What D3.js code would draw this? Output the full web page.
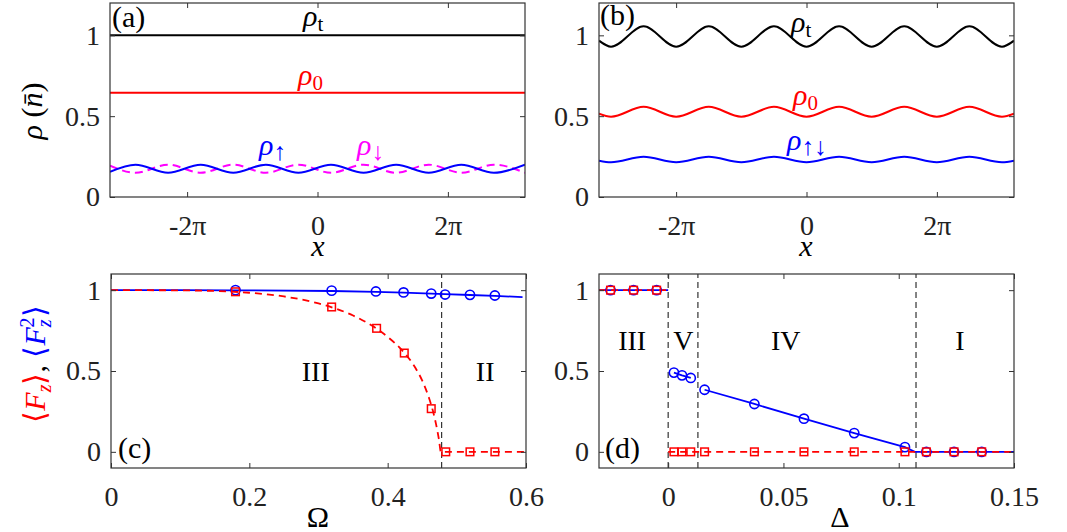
<!DOCTYPE html>
<html><head><meta charset="utf-8">
<script src="https://cdn.jsdelivr.net/npm/d3@7"></script>
<style>body{margin:0;background:#fff}</style>
</head><body><svg id="chart" width="1067" height="532"></svg>
<script>
// ---------- data ----------
const topXTicks = [-2 * Math.PI, 0, 2 * Math.PI];
const topXTickLabels = ["-2\u03c0", "0", "2\u03c0"];
const rhoYTicks = [0, 0.5, 1];
const rhoYTickLabels = ["0", "0.5", "1"];

// panel (a)
const aFlatX = [-10, 10];
const aRhoT = [1, 1];
const aRho0 = [0.645, 0.645];
const aWaveX = [-10, -8.77, -7.20, -5.63, -4.06, -2.49, -0.92, 0.65, 2.22, 3.79, 5.36, 6.93, 8.50, 10];
const aRhoUp = [0.156, 0.20, 0.15, 0.20, 0.15, 0.20, 0.15, 0.20, 0.15, 0.20, 0.15, 0.20, 0.15, 0.20];
const aRhoDown = [0.194, 0.15, 0.20, 0.15, 0.20, 0.15, 0.20, 0.15, 0.20, 0.15, 0.20, 0.15, 0.20, 0.15];

// panel (b)
const bWaveX = [-10, -9.42, -7.85, -6.28, -4.71, -3.14, -1.57, 0, 1.57, 3.14, 4.71, 6.28, 7.85, 9.42, 10];
const bRhoT = [0.967, 0.93, 1.056, 0.93, 1.056, 0.93, 1.056, 0.93, 1.056, 0.93, 1.056, 0.93, 1.056, 0.93, 0.967];
const bRho0 = [0.515, 0.497, 0.558, 0.497, 0.558, 0.497, 0.558, 0.497, 0.558, 0.497, 0.558, 0.497, 0.558, 0.497, 0.515];
const bRhoUD = [0.225, 0.215, 0.249, 0.215, 0.249, 0.215, 0.249, 0.215, 0.249, 0.215, 0.249, 0.215, 0.249, 0.215, 0.225];

// panel (c)
const cXTicks = [0, 0.2, 0.4, 0.6];
const cXTickLabels = ["0", "0.2", "0.4", "0.6"];
const cLineBlueX = [0, 0.1, 0.18, 0.32, 0.383, 0.423, 0.463, 0.483, 0.519, 0.555, 0.595];
const cLineBlueY = [1, 1, 0.999, 0.995, 0.99, 0.985, 0.979, 0.975, 0.97, 0.965, 0.957];
const cLineRedX = [0, 0.1, 0.15, 0.2, 0.25, 0.3, 0.35, 0.38, 0.4, 0.42, 0.44, 0.45, 0.46, 0.465, 0.47, 0.474, 0.477, 0.6];
const cLineRedY = [1, 0.999, 0.995, 0.984, 0.961, 0.918, 0.843, 0.773, 0.711, 0.632, 0.52, 0.44, 0.33, 0.26, 0.17, 0.08, 0, 0];
const cCircX = [0.18, 0.319, 0.383, 0.423, 0.463, 0.483, 0.519, 0.555];
const cCircY = [1.0, 0.997, 0.992, 0.986, 0.979, 0.973, 0.971, 0.967];
const cSqX = [0.18, 0.319, 0.384, 0.424, 0.463, 0.484, 0.519, 0.555];
const cSqY = [0.99, 0.896, 0.764, 0.611, 0.267, 0, 0, 0];
const cBoundary = [0.478];
const cRegions = [{name: "III", x: 0.296, y: 0.5}, {name: "II", x: 0.541, y: 0.5}];

// panel (d)
const dXTicks = [0, 0.05, 0.1, 0.15];
const dXTickLabels = ["0", "0.05", "0.1", "0.15"];
const dMarkX = [-0.025, -0.015, -0.005, 0.0025, 0.006, 0.0098, 0.0158, 0.0374, 0.0589, 0.0807, 0.1027, 0.112, 0.124, 0.136];
const dCircY = [1, 1, 1, 0.49, 0.473, 0.457, 0.384, 0.296, 0.205, 0.116, 0.029, 0, 0, 0];
const dSqY = [1, 1, 1, 0, 0, 0, 0, 0, 0, 0, 0, 0, 0, 0];
const dBlueSegIII = [[-0.03, 1], [0, 1]];
const dBlueSegV = [[0.0025, 0.49], [0.006, 0.473], [0.0098, 0.457]];
const dBlueSegIV = [[0.0158, 0.384], [0.0374, 0.296], [0.0589, 0.205], [0.0807, 0.116], [0.1027, 0.029], [0.107, 0], [0.15, 0]];
const dRedSegIII = [[-0.03, 1], [0, 1]];
const dRedSegRest = [[0, 0], [0.15, 0]];
const dBoundaries = [0, 0.0129, 0.1075];
const dRegions = [{name: "III", x: -0.0156, y: 0.69}, {name: "V", x: 0.0066, y: 0.69}, {name: "IV", x: 0.051, y: 0.69}, {name: "I", x: 0.1265, y: 0.69}];

// ---------- drawing ----------
const FONT = '"Liberation Serif","Times New Roman",serif';
const svg = d3.select("#chart");
svg.append("rect").attr("width", 1067).attr("height", 532).attr("fill", "#fff");

let clipId = 0;
function panel(box, xDom, yDom, xTicks, xLabels, yTicks, yLabels) {
  const x = d3.scaleLinear().domain(xDom).range([box.x0, box.x1]);
  const y = d3.scaleLinear().domain(yDom).range([box.y1, box.y0]);
  const g = svg.append("g");
  const id = "clip" + (clipId++);
  svg.append("clipPath").attr("id", id).append("rect")
    .attr("x", box.x0).attr("y", box.y0).attr("width", box.x1 - box.x0).attr("height", box.y1 - box.y0);
  const data = g.append("g").attr("clip-path", `url(#${id})`);
  const marks = g.append("g");
  const ax = g.append("g").style("color", "#262626").attr("font-family", FONT);
  const style = sel => {
    sel.attr("font-family", FONT);
    sel.select(".domain").remove();
    sel.selectAll(".tick line").attr("stroke", "#333").attr("stroke-width", 1);
    sel.selectAll(".tick text").style("font-family", FONT).style("font-size", "28px").attr("fill", "#222");
  };
  ax.append("g").attr("transform", `translate(0,${box.y1})`)
    .call(d3.axisBottom(x).tickValues(xTicks).tickFormat((d, i) => xLabels[i]).tickSize(-5).tickPadding(18)).call(style);
  ax.append("g").attr("transform", `translate(0,${box.y0})`)
    .call(d3.axisTop(x).tickValues(xTicks).tickFormat("").tickSize(-5)).call(style);
  ax.append("g").attr("transform", `translate(${box.x0},0)`)
    .call(d3.axisLeft(y).tickValues(yTicks).tickFormat((d, i) => yLabels[i]).tickSize(-5).tickPadding(10)).call(style);
  ax.append("g").attr("transform", `translate(${box.x1},0)`)
    .call(d3.axisRight(y).tickValues(yTicks).tickFormat("").tickSize(-5)).call(style);
  g.append("rect").attr("x", box.x0).attr("y", box.y0).attr("width", box.x1 - box.x0).attr("height", box.y1 - box.y0)
    .attr("fill", "none").attr("stroke", "#333").attr("stroke-width", 1.2);
  return {x, y, data, marks, g};
}

function drawLine(p, pts, color, width, dash, curve) {
  const line = d3.line().x(d => p.x(d[0])).y(d => p.y(d[1])).curve(curve || d3.curveLinear);
  p.data.append("path").datum(pts).attr("d", line).attr("fill", "none")
    .attr("stroke", color).attr("stroke-width", width).attr("stroke-dasharray", dash || null);
}

function richText(parent, x, y, parts, opts) {
  opts = opts || {};
  const t = parent.append("text").attr("x", x).attr("y", y)
    .style("font-family", FONT).style("font-size", (opts.size || 30) + "px")
    .attr("text-anchor", opts.anchor || "start");
  if (opts.transform) t.attr("transform", opts.transform);
  parts.forEach(p => {
    const s = t.append("tspan").text(p.t);
    if (p.i) s.attr("font-style", "italic");
    if (p.size) s.style("font-size", p.size + "px");
    if (p.dy) s.attr("dy", p.dy);
    if (p.dx) s.attr("dx", p.dx);
    s.attr("fill", p.c || opts.fill || "#000");
  });
  return t;
}

const boxA = {x0: 110, x1: 525, y0: 3, y1: 197};
const boxB = {x0: 599, x1: 1014, y0: 3, y1: 197};
const boxC = {x0: 111, x1: 526, y0: 274, y1: 468};
const boxD = {x0: 599, x1: 1014, y0: 274, y1: 468};

// ---- (a)
const pa = panel(boxA, [-10, 10], [0, 1.2], topXTicks, topXTickLabels, rhoYTicks, rhoYTickLabels);
drawLine(pa, d3.zip(aFlatX, aRhoT), "#000", 2);
drawLine(pa, d3.zip(aFlatX, aRho0), "#ff0000", 2);
drawLine(pa, d3.zip(aWaveX, aRhoDown), "#ff00ff", 2, "8,5", d3.curveMonotoneX);
drawLine(pa, d3.zip(aWaveX, aRhoUp), "#0000ff", 2, null, d3.curveMonotoneX);
richText(svg, 303, 26, [{t: "\u03c1", i: true}, {t: "t", size: 21, dy: 5}]);
richText(svg, 298, 85, [{t: "\u03c1", i: true}, {t: "0", size: 21, dy: 5}], {fill: "#ff0000"});
richText(svg, 259, 155, [{t: "\u03c1", i: true}, {t: "\u2191", size: 25, dy: 5}], {fill: "#0000ff"});
richText(svg, 357, 155, [{t: "\u03c1", i: true}, {t: "\u2193", size: 25, dy: 5}], {fill: "#ff00ff"});
richText(svg, 112, 27, [{t: "(a)"}]);
richText(svg, 318, 256, [{t: "x", i: true}], {anchor: "middle"});
richText(svg, 0, 0, [{t: "\u03c1", i: true}, {t: " ("}, {t: "n\u0304", i: true}, {t: ")"}],
  {anchor: "middle", transform: "translate(42,111) rotate(-90)"});

// ---- (b)
const pb = panel(boxB, [-10, 10], [0, 1.2], topXTicks, topXTickLabels, rhoYTicks, rhoYTickLabels);
drawLine(pb, d3.zip(bWaveX, bRhoT), "#000", 2, null, d3.curveMonotoneX);
drawLine(pb, d3.zip(bWaveX, bRho0), "#ff0000", 2, null, d3.curveMonotoneX);
drawLine(pb, d3.zip(bWaveX, bRhoUD), "#0000ff", 2, null, d3.curveMonotoneX);
richText(svg, 791, 32, [{t: "\u03c1", i: true}, {t: "t", size: 21, dy: 5}]);
richText(svg, 793, 105, [{t: "\u03c1", i: true}, {t: "0", size: 21, dy: 5}], {fill: "#ff0000"});
richText(svg, 787, 150, [{t: "\u03c1", i: true}, {t: "\u2191\u2193", size: 25, dy: 5}], {fill: "#0000ff"});
richText(svg, 600, 25, [{t: "(b)"}]);
richText(svg, 806, 256, [{t: "x", i: true}], {anchor: "middle"});

// ---- (c)
const pc = panel(boxC, [0, 0.6], [-0.1, 1.1], cXTicks, cXTickLabels, rhoYTicks, rhoYTickLabels);
cBoundary.forEach(v => drawLine(pc, [[v, -0.1], [v, 1.1]], "#333", 1.2, "6,4"));
drawLine(pc, d3.zip(cLineBlueX, cLineBlueY), "#0000ff", 1.8);
drawLine(pc, d3.zip(cLineRedX, cLineRedY), "#ff0000", 1.8, "7,5", d3.curveMonotoneX);
pc.marks.selectAll("circle").data(d3.zip(cCircX, cCircY)).join("circle")
  .attr("cx", d => pc.x(d[0])).attr("cy", d => pc.y(d[1])).attr("r", 4.6)
  .attr("fill", "none").attr("stroke", "#0000ff").attr("stroke-width", 1.6);
pc.marks.selectAll("rect").data(d3.zip(cSqX, cSqY)).join("rect")
  .attr("x", d => pc.x(d[0]) - 3.8).attr("y", d => pc.y(d[1]) - 3.8).attr("width", 7.6).attr("height", 7.6)
  .attr("fill", "none").attr("stroke", "#ff0000").attr("stroke-width", 1.5);
cRegions.forEach(r => richText(svg, pc.x(r.x), pc.y(r.y) + 10, [{t: r.name}], {anchor: "middle", size: 28}));
richText(svg, 118, 458, [{t: "(c)"}]);
richText(svg, 318, 527, [{t: "\u03a9"}], {anchor: "middle"});
richText(svg, 0, 0, [
  {t: "\u27e8", c: "#ff0000"}, {t: "F", i: true, c: "#ff0000"}, {t: "z", i: true, size: 20, dy: 6, c: "#ff0000"},
  {t: "\u27e9", c: "#ff0000", dy: -6}, {t: ", ", c: "#000"},
  {t: "\u27e8", c: "#0000ff"}, {t: "F", i: true, c: "#0000ff"}, {t: "z", i: true, size: 20, dy: 6, c: "#0000ff"},
  {t: "2", size: 20, dx: -8, dy: -17, c: "#0000ff"}, {t: "\u27e9", c: "#0000ff", dy: 11}
], {anchor: "middle", transform: "translate(45,364) rotate(-90)"});

// ---- (d)
const pd = panel(boxD, [-0.03, 0.15], [-0.1, 1.1], dXTicks, dXTickLabels, rhoYTicks, rhoYTickLabels);
dBoundaries.forEach(v => drawLine(pd, [[v, -0.1], [v, 1.1]], "#333", 1.2, "6,4"));
[dBlueSegIII, dBlueSegV, dBlueSegIV].forEach(s => drawLine(pd, s, "#0000ff", 1.8));
drawLine(pd, dRedSegIII, "#ff0000", 1.8, "7,5");
drawLine(pd, dRedSegRest, "#ff0000", 1.8, "7,5");
pd.marks.selectAll("circle").data(d3.zip(dMarkX, dCircY)).join("circle")
  .attr("cx", d => pd.x(d[0])).attr("cy", d => pd.y(d[1])).attr("r", 4.6)
  .attr("fill", "none").attr("stroke", "#0000ff").attr("stroke-width", 1.6);
pd.marks.selectAll("rect").data(d3.zip(dMarkX, dSqY)).join("rect")
  .attr("x", d => pd.x(d[0]) - 3.8).attr("y", d => pd.y(d[1]) - 3.8).attr("width", 7.6).attr("height", 7.6)
  .attr("fill", "none").attr("stroke", "#ff0000").attr("stroke-width", 1.5);
dRegions.forEach(r => richText(svg, pd.x(r.x), pd.y(r.y) + 10, [{t: r.name}], {anchor: "middle", size: 28}));
richText(svg, 605, 458, [{t: "(d)"}]);
richText(svg, 840, 527, [{t: "\u0394"}], {anchor: "middle"});
</script></body></html>
